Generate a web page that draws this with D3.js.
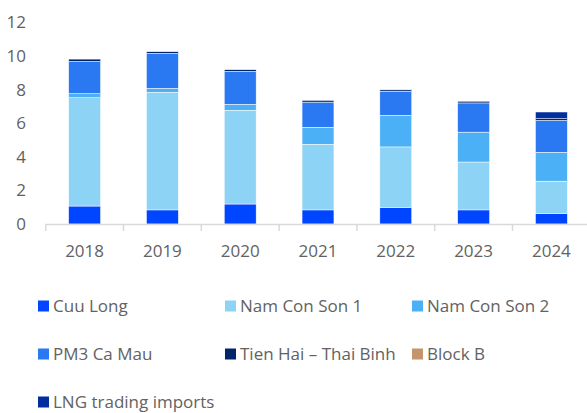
<!DOCTYPE html>
<html>
<head>
<meta charset="utf-8">
<script src="https://cdn.jsdelivr.net/npm/d3@7"></script>
<style>
	body { margin: 0; background: #fff; }
	svg text { font-family: "Open Sans", sans-serif; fill: #626262; }
</style>
</head>
<body>
<div id="chart"></div>
<script>
// values in bcm
var years = ["2018", "2019", "2020", "2021", "2022", "2023", "2024"]
var cuuLong = [1.07, 0.84, 1.19, 0.84, 0.99, 0.84, 0.63]
var namConSon1 = [6.45, 7.0, 5.58, 3.91, 3.6, 2.85, 1.92]
var namConSon2 = [0.24, 0.24, 0.36, 1.01, 1.88, 1.78, 1.72]
var pm3CaMau = [1.92, 2.08, 1.96, 1.5, 1.44, 1.74, 1.9]
var tienHai = [0.14, 0.1, 0.1, 0.1, 0.08, 0.1, 0.1]
var blockB = [0, 0, 0, 0, 0, 0, 0]
var lngImports = [0, 0, 0, 0, 0, 0, 0.4]
var yTicks = [0, 2, 4, 6, 8, 10, 12]

var seriesNames = ["Cuu Long", "Nam Con Son 1", "Nam Con Son 2", "PM3 Ca Mau",
	"Tien Hai \u2013 Thai Binh", "Block B", "LNG trading imports"]
var seriesValues = [cuuLong, namConSon1, namConSon2, pm3CaMau, tienHai, blockB, lngImports]
var colors = ["#0045ff", "#8dd3f5", "#4bb0f6", "#2a78f2", "#00256b", "#c4956c", "#022fa0"]

var WIDTH = 587, HEIGHT = 413
var FONT = "17px"

var rows = years.map(function(y, i){
	var o = { year: y }
	seriesNames.forEach(function(s, j){ o[s] = seriesValues[j][i] })
	return o
})

var stack = d3.stack().keys(seriesNames)(rows)

var svg = d3.select("#chart").append("svg")
	.attr("width", WIDTH)
	.attr("height", HEIGHT)

var x = d3.scaleBand()
	.domain(years)
	.range([45.7, 590.3])
	.paddingInner(0.59)
	.paddingOuter(0.295)

var y = d3.scaleLinear()
	.domain([0, 12])
	.range([224, 22.5])

// y labels, no axis line
svg.selectAll(".ytick")
	.data(yTicks)
	.enter()
	.append("text")
	.attr("class", "ytick")
	.attr("x", 26)
	.attr("y", function(d){ return y(d) })
	.attr("dy", "0.35em")
	.attr("text-anchor", "end")
	.style("font-size", FONT)
	.text(function(d){ return d })

// bars
var layer = svg.selectAll(".layer")
	.data(stack)
	.enter()
	.append("g")
	.attr("class", "layer")
	.attr("fill", function(d, i){ return colors[i] })

layer.selectAll("rect")
	.data(function(d){ return d.filter(function(p){ return p[1] - p[0] > 0 }) })
	.enter()
	.append("rect")
	.attr("x", function(d){ return x(d.data.year) })
	.attr("width", x.bandwidth())
	.attr("y", function(d){ return y(d[1]) })
	.attr("height", function(d){ return y(d[0]) - y(d[1]) })
	.attr("stroke", "#fff")
	.attr("stroke-width", 0.5)

// x axis: baseline with ticks between categories
var step = x.step()
var edges = years.map(function(d){ return x(d) - x.paddingOuter() * step })

svg.append("line")
	.attr("x1", 45.7)
	.attr("x2", 590.3)
	.attr("y1", y(0) + 0.5)
	.attr("y2", y(0) + 0.5)
	.attr("stroke", "#d9d9d9")
	.attr("stroke-width", 1.5)

svg.selectAll(".xtick")
	.data(edges)
	.enter()
	.append("line")
	.attr("class", "xtick")
	.attr("x1", function(d){ return d })
	.attr("x2", function(d){ return d })
	.attr("y1", y(0))
	.attr("y2", y(0) + 7)
	.attr("stroke", "#d9d9d9")
	.attr("stroke-width", 1.5)

svg.selectAll(".xlabel")
	.data(years)
	.enter()
	.append("text")
	.attr("class", "xlabel")
	.attr("x", function(d){ return x(d) + x.bandwidth() / 2 })
	.attr("y", 251)
	.attr("dy", "0.35em")
	.attr("text-anchor", "middle")
	.style("font-size", FONT)
	.text(function(d){ return d })

// legend, three columns
var legend = svg.selectAll(".legendItem")
	.data(seriesNames)
	.enter()
	.append("g")
	.attr("class", "legendItem")
	.attr("transform", function(d, i){
		return "translate(" + (38 + (i % 3) * 187) + "," + (306 + Math.floor(i / 3) * 48) + ")"
	})

legend.append("rect")
	.attr("x", 0)
	.attr("y", -5.5)
	.attr("width", 11)
	.attr("height", 11)
	.attr("fill", function(d, i){ return colors[i] })

legend.append("text")
	.attr("x", 15)
	.attr("y", 0)
	.attr("dy", "0.35em")
	.style("font-size", FONT)
	.text(function(d){ return d })
</script>
</body>
</html>
